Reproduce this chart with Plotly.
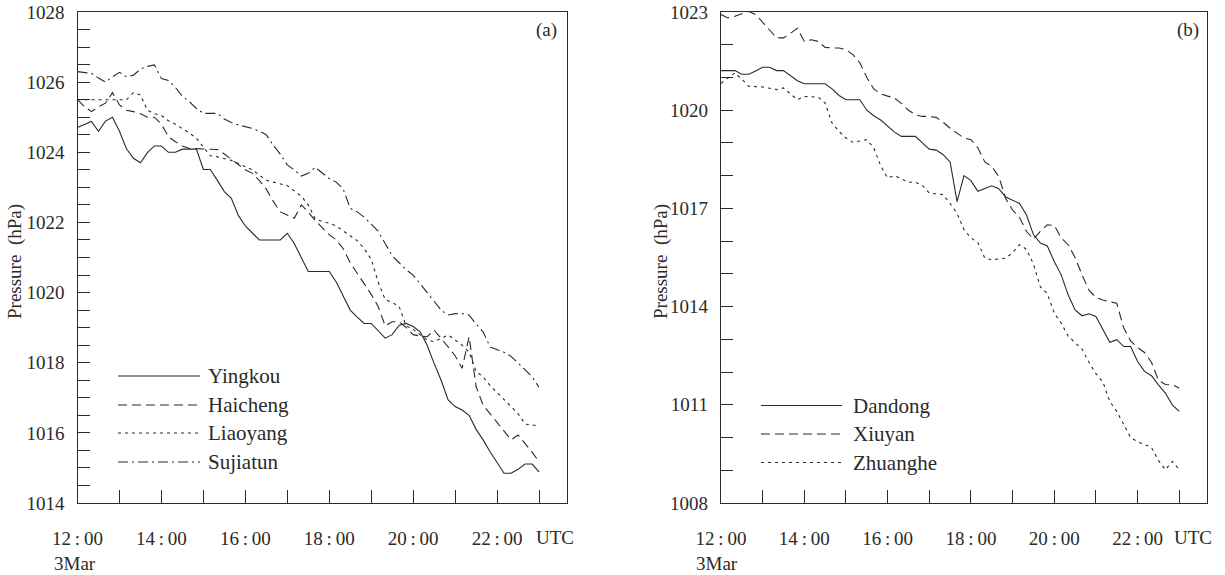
import plotly.graph_objects as go

W, H = 1225, 575

# 10-minute observations, 12:00 to 23:00 UTC, 3 March
hours = [12 + i / 6 for i in range(67)]

yingkou = [1024.71, 1024.8, 1024.88, 1024.6, 1024.89, 1025.0, 1024.6, 1024.1, 1023.83, 1023.7,
           1023.99, 1024.18, 1024.18, 1024.0, 1024.0, 1024.09, 1024.09, 1024.09, 1023.51, 1023.51,
           1023.2, 1022.88, 1022.69, 1022.2, 1021.9, 1021.7, 1021.5, 1021.5, 1021.5, 1021.5,
           1021.69, 1021.4, 1021.0, 1020.6, 1020.6, 1020.6, 1020.6, 1020.3, 1019.9, 1019.5,
           1019.3, 1019.12, 1019.12, 1018.9, 1018.7, 1018.8, 1019.07, 1019.12, 1019.03, 1018.88,
           1018.5, 1017.98, 1017.5, 1016.94, 1016.75, 1016.65, 1016.5, 1016.1, 1015.8, 1015.46,
           1015.15, 1014.85, 1014.85, 1014.96, 1015.11, 1015.11, 1014.89]

haicheng = [1025.5, 1025.3, 1025.16, 1025.3, 1025.4, 1025.7, 1025.35, 1025.2, 1025.16, 1025.1,
            1025.0, 1025.0, 1024.8, 1024.45, 1024.3, 1024.18, 1024.11, 1024.1, 1024.1, 1024.1,
            1024.08, 1023.95, 1023.8, 1023.65, 1023.5, 1023.4, 1023.2, 1022.95, 1022.6, 1022.3,
            1022.2, 1022.12, 1022.5, 1022.3, 1022.05, 1021.85, 1021.65, 1021.5, 1021.25, 1020.85,
            1020.55, 1020.25, 1019.95, 1019.6, 1019.05, 1019.17, 1019.17, 1019.0, 1018.8, 1018.76,
            1018.74, 1018.93, 1018.7, 1018.45, 1018.2, 1017.84, 1018.74, 1017.32, 1016.79, 1016.56,
            1016.3, 1016.05, 1015.8, 1015.94, 1015.7, 1015.45, 1015.18]

liaoyang = [1025.5, 1025.5, 1025.5, 1025.5, 1025.5, 1025.5, 1025.5, 1025.5, 1025.7, 1025.63,
            1025.2, 1025.1, 1025.05, 1024.9, 1024.8, 1024.68, 1024.55, 1024.4, 1024.15, 1023.9,
            1023.87, 1023.83, 1023.77, 1023.68, 1023.6, 1023.5, 1023.35, 1023.2, 1023.15, 1023.1,
            1023.05, 1022.9, 1022.75, 1022.5, 1022.1, 1022.03, 1021.98, 1021.9, 1021.75, 1021.62,
            1021.48, 1021.25, 1020.95, 1020.3, 1019.8, 1019.72, 1019.6, 1019.05, 1018.95, 1018.8,
            1018.65, 1018.6, 1018.69, 1018.79, 1018.65, 1018.5, 1018.3, 1017.75, 1017.6, 1017.35,
            1017.15, 1016.95, 1016.75, 1016.55, 1016.25, 1016.22, 1016.2]

sujiatun = [1026.3, 1026.28, 1026.25, 1026.12, 1026.0, 1026.15, 1026.28, 1026.15, 1026.2, 1026.37,
            1026.45, 1026.49, 1026.1, 1026.05, 1025.85, 1025.6, 1025.44, 1025.25, 1025.11, 1025.11,
            1025.11, 1024.95, 1024.85, 1024.78, 1024.73, 1024.68, 1024.6, 1024.5, 1024.2, 1023.95,
            1023.64, 1023.5, 1023.32, 1023.4, 1023.57, 1023.4, 1023.25, 1023.15, 1022.95, 1022.4,
            1022.3, 1022.15, 1021.95, 1021.75, 1021.4, 1021.05, 1020.85, 1020.65, 1020.5, 1020.25,
            1020.0, 1019.75, 1019.5, 1019.36, 1019.4, 1019.4, 1019.36, 1019.1, 1018.88, 1018.45,
            1018.38, 1018.3, 1018.18, 1018.0, 1017.8, 1017.6, 1017.3]

dandong = [1021.21, 1021.21, 1021.21, 1021.1, 1021.1, 1021.2, 1021.31, 1021.31, 1021.21, 1021.21,
           1021.05, 1020.9, 1020.81, 1020.81, 1020.81, 1020.81, 1020.65, 1020.45, 1020.32, 1020.32,
           1020.32, 1020.0, 1019.83, 1019.7, 1019.5, 1019.33, 1019.2, 1019.2, 1019.2, 1019.0,
           1018.81, 1018.78, 1018.64, 1018.42, 1017.21, 1018.0, 1017.85, 1017.52, 1017.6, 1017.69,
           1017.6, 1017.35, 1017.25, 1017.15, 1016.8, 1016.2, 1015.94, 1015.85, 1015.38, 1014.97,
           1014.36, 1013.9, 1013.72, 1013.78, 1013.7, 1013.29, 1012.91, 1012.99, 1012.78, 1012.78,
           1012.32, 1012.02, 1011.89, 1011.61, 1011.36, 1011.0, 1010.8]

xiuyan = [1022.92, 1022.82, 1022.87, 1022.95, 1023.02, 1022.92, 1022.7, 1022.45, 1022.21, 1022.21,
          1022.35, 1022.5, 1022.1, 1022.15, 1022.1, 1021.92, 1021.9, 1021.9, 1021.85, 1021.7,
          1021.45, 1021.0, 1020.65, 1020.5, 1020.43, 1020.37, 1020.2, 1020.0, 1019.86, 1019.81,
          1019.81, 1019.78, 1019.63, 1019.45, 1019.3, 1019.15, 1019.1, 1018.85, 1018.42, 1018.28,
          1017.98, 1017.3, 1016.95, 1016.72, 1016.3, 1016.06, 1016.3, 1016.5, 1016.48, 1016.1,
          1015.89, 1015.5, 1014.97, 1014.5, 1014.28, 1014.2, 1014.15, 1014.1, 1013.35, 1012.95,
          1012.75, 1012.6, 1012.3, 1011.75, 1011.62, 1011.61, 1011.51]

zhuanghe = [1020.82, 1020.98, 1021.14, 1020.95, 1020.73, 1020.72, 1020.71, 1020.67, 1020.63, 1020.68,
            1020.5, 1020.32, 1020.42, 1020.41, 1020.4, 1020.22, 1019.6, 1019.35, 1019.15, 1019.02,
            1019.05, 1019.1, 1018.85, 1018.3, 1017.93, 1018.0, 1017.9, 1017.8, 1017.8, 1017.7,
            1017.47, 1017.44, 1017.42, 1017.15, 1016.85, 1016.35, 1016.1, 1015.95, 1015.48, 1015.43,
            1015.45, 1015.48, 1015.65, 1015.89, 1015.75, 1015.3, 1014.6, 1014.4, 1013.8, 1013.5,
            1013.1, 1012.9, 1012.7, 1012.3, 1011.95, 1011.7, 1011.1, 1010.8, 1010.4, 1010.0,
            1009.87, 1009.78, 1009.7, 1009.3, 1009.02, 1009.27, 1009.02]

TS = "\u2009:\u2009"
hour_ticks = list(range(12, 24))
hour_labels = ["12" + TS + "00", "", "14" + TS + "00", "", "16" + TS + "00", "", "18" + TS + "00", "",
               "20" + TS + "00", "", "22" + TS + "00", ""]

left_names = ["Yingkou", "Haicheng", "Liaoyang", "Sujiatun"]
right_names = ["Dandong", "Xiuyan", "Zhuanghe"]

INK = "#2a2a2a"
FONT = "Liberation Serif, Times New Roman, serif"
DASH = {"solid": "solid", "dash": "9px,5px", "dot": "3px,4px", "dashdot": "10px,4px,2px,4px"}

left_series = [(yingkou, "solid"), (haicheng, "dash"), (liaoyang, "dot"), (sujiatun, "dashdot")]
right_series = [(dandong, "solid"), (xiuyan, "dash"), (zhuanghe, "dot")]

fig = go.Figure()
for (vals, st), name in zip(left_series, left_names):
    fig.add_trace(go.Scatter(x=hours, y=vals, mode="lines", name=name, xaxis="x", yaxis="y",
                             line=dict(color=INK, width=1.1, dash=DASH[st]), showlegend=False))
for (vals, st), name in zip(right_series, right_names):
    fig.add_trace(go.Scatter(x=hours, y=vals, mode="lines", name=name, xaxis="x2", yaxis="y2",
                             line=dict(color=INK, width=1.1, dash=DASH[st]), showlegend=False))

def px(x):
    return x / W

def py(y):
    return 1 - y / H

xr = [12, 23 + 40 / 60]
common_x = dict(range=xr, tickvals=hour_ticks, ticktext=hour_labels, ticks="inside", ticklen=13,
                tickcolor=INK, tickwidth=1, showline=True, linecolor=INK, linewidth=1.3, mirror=True,
                showgrid=False, zeroline=False, ticklabelstandoff=18, automargin=False,
                tickfont=dict(family=FONT, size=19, color=INK))
common_y = dict(ticks="inside", ticklen=12, tickcolor=INK, tickwidth=1, showline=True, linecolor=INK,
                linewidth=1.3, mirror=True, showgrid=False, zeroline=False, ticklabelstandoff=8,
                automargin=False, tickfont=dict(family=FONT, size=19, color=INK))

ly_ticks = [1014 + 0.5 * k for k in range(29)]
ly_text = [str(int(v)) if v % 2 == 0 else "" for v in ly_ticks]
ry_ticks = list(range(1008, 1024))
ry_text = [str(v) if (v - 1008) % 3 == 0 else "" for v in ry_ticks]

fig.update_layout(
    width=W, height=H, margin=dict(l=0, r=0, t=0, b=0),
    paper_bgcolor="white", plot_bgcolor="white",
    xaxis=dict(domain=[px(77.5), px(567)], anchor="y", **common_x),
    yaxis=dict(domain=[py(503), py(12)], anchor="x", range=[1014, 1028],
               tickvals=ly_ticks, ticktext=ly_text, **common_y),
    xaxis2=dict(domain=[px(721), px(1207)], anchor="y2", **common_x),
    yaxis2=dict(domain=[py(503), py(12)], anchor="x2", range=[1008, 1023],
                tickvals=ry_ticks, ticktext=ry_text, **common_y),
)

ann = []
def text(x, y, s, size=19, anchor="center", angle=0):
    ann.append(dict(x=px(x), y=py(y), xref="paper", yref="paper", text=s, showarrow=False,
                    xanchor=anchor, yanchor="middle", textangle=angle,
                    font=dict(family=FONT, size=size, color=INK)))

text(15, 262, "Pressure\u2002(hPa)", angle=-90)
text(661, 262, "Pressure\u2002(hPa)", angle=-90)
text(546, 30, "(a)")
text(1188, 30, "(b)")
text(75, 563, "3Mar")
text(717, 563, "3Mar")
text(555, 537, "UTC")
text(1193, 537, "UTC")

shapes = []
def legend(x0, x1, xt, ys, names, styles):
    for y, n, st in zip(ys, names, styles):
        shapes.append(dict(type="line", xref="paper", yref="paper", x0=px(x0), x1=px(x1),
                           y0=py(y), y1=py(y), line=dict(color=INK, width=1.1, dash=DASH[st])))
        text(xt, y, n, size=21, anchor="left")

legend(118, 200, 206, [376, 405, 433, 462], left_names, [s for _, s in left_series])
legend(761, 842, 851, [405.5, 434, 462.5], right_names, [s for _, s in right_series])

fig.update_layout(annotations=ann, shapes=shapes)
fig.write_html("out.html")
